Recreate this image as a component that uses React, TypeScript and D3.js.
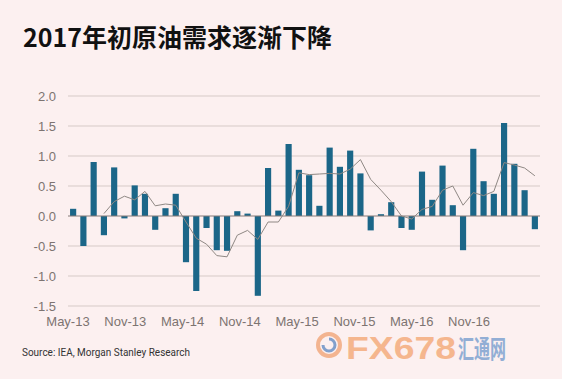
import React from "react";
import * as d3 from "d3";

const title = "2017年初原油需求逐渐下降";
const source = "Source: IEA, Morgan Stanley Research";

const months = [
  "May-13","Jun-13","Jul-13","Aug-13","Sep-13","Oct-13","Nov-13","Dec-13",
  "Jan-14","Feb-14","Mar-14","Apr-14","May-14","Jun-14","Jul-14","Aug-14","Sep-14","Oct-14","Nov-14","Dec-14",
  "Jan-15","Feb-15","Mar-15","Apr-15","May-15","Jun-15","Jul-15","Aug-15","Sep-15","Oct-15","Nov-15","Dec-15",
  "Jan-16","Feb-16","Mar-16","Apr-16","May-16","Jun-16","Jul-16","Aug-16","Sep-16","Oct-16","Nov-16","Dec-16",
  "Jan-17","Feb-17",
];

const demand = [
  0.12, -0.5, 0.9, -0.32, 0.81, -0.04, 0.51, 0.37, -0.23, 0.13, 0.37, -0.77,
  -1.25, -0.2, -0.57, -0.58, 0.08, 0.04, -1.33, 0.8, 0.09, 1.2, 0.77, 0.68,
  0.17, 1.14, 0.82, 1.09, 0.71, -0.24, 0.03, 0.23, -0.2, -0.23, 0.74, 0.27,
  0.84, 0.18, -0.57, 1.12, 0.58, 0.37, 1.55, 0.87, 0.43, -0.22,
];

const trend: (number | null)[] = [
  null, null, null,
  0.04, 0.24, 0.33, 0.27, 0.41, 0.17, 0.2, 0.18, -0.1, -0.37, -0.47, -0.66,
  -0.68, -0.32, -0.24, -0.39, -0.1, -0.1, 0.16, 0.72, 0.69, 0.7, 0.71, 0.7,
  0.78, 0.94, 0.61, 0.43, 0.24, 0.0, -0.05, 0.11, 0.16, 0.43, 0.5, 0.18,
  0.39, 0.34, 0.41, 0.89, 0.85, 0.8, 0.67,
];

const yTicks = [2.0, 1.5, 1.0, 0.5, 0.0, -0.5, -1.0, -1.5];
const xLabels = ["May-13", "Nov-13", "May-14", "Nov-14", "May-15", "Nov-15", "May-16", "Nov-16"];

const W = 562;
const H = 379;

export default function App() {
  const x = d3.scaleBand<string>().domain(months).range([68, 540]).paddingInner(0.4).paddingOuter(0.2);
  const y = d3.scaleLinear().domain([-1.5, 2]).range([306, 96]);
  const xl = d3.scalePoint<string>().domain(xLabels).range([68, 469]);

  const line = d3
    .line<number | null>()
    .defined((d) => d !== null)
    .x((_, i) => (x(months[i]) as number) + x.bandwidth() / 2)
    .y((d) => y(d as number));

  const axisFont = "'Liberation Sans', Arial, sans-serif";

  return (
    <svg
      width={W}
      height={H}
      style={{ position: "absolute", left: 0, top: 0, background: "#fcf0f0" }}
    >
      <rect x={0} y={0} width={W} height={H} fill="#fcf0f0" />
      <text
        x={23}
        y={47}
        fontFamily="'Noto Sans CJK SC', sans-serif"
        fontWeight="bold"
        fontSize={25}
        fill="#111"
      >
        {title}
      </text>

      {yTicks.map((t) => (
        <g key={t}>
          {t !== 0 && (
            <line x1={68} x2={540} y1={y(t)} y2={y(t)} stroke="#d6cac7" strokeWidth={1} />
          )}
          <text
            x={56}
            y={y(t)}
            dy="0.36em"
            textAnchor="end"
            fontFamily={axisFont}
            fontSize={13}
            fill="#7d7471"
          >
            {t.toFixed(1)}
          </text>
        </g>
      ))}

      {demand.map((v, i) => (
        <rect
          key={months[i]}
          x={x(months[i])}
          width={x.bandwidth()}
          y={y(Math.max(0, v))}
          height={Math.abs(y(v) - y(0))}
          fill="#1b6688"
        />
      ))}

      <line x1={68} x2={540} y1={y(0)} y2={y(0)} stroke="#857b78" strokeWidth={1} />

      <path d={line(trend) || ""} fill="none" stroke="#8f8884" strokeWidth={1} />

      {xLabels.map((l) => (
        <text
          key={l}
          x={xl(l)}
          y={326}
          textAnchor="middle"
          fontFamily={axisFont}
          fontSize={13}
          fill="#7d7471"
        >
          {l}
        </text>
      ))}

      <text
        x={22}
        y={356}
        fontFamily="Roboto, 'Liberation Sans', sans-serif"
        fontSize={11}
        fill="#333"
        textLength={168}
        lengthAdjust="spacingAndGlyphs"
      >
        {source}
      </text>

      <g opacity={0.75}>
        <circle cx={329} cy={345} r={11} fill="none" stroke="#f0a070" strokeWidth={4} />
        <path d="M 329 339 a 6 6 0 1 1 -6 6" fill="none" stroke="#5a86c0" strokeWidth={3} />
        <text
          x={346}
          y={359}
          fontFamily="'Liberation Sans Narrow', 'Liberation Sans', sans-serif"
          fontWeight="bold"
          fontSize={31}
          fill="#f3a36e"
          textLength={110}
          lengthAdjust="spacingAndGlyphs"
        >
          FX678
        </text>
        <text
          x={458}
          y={358}
          fontFamily="'Noto Sans CJK SC', sans-serif"
          fontWeight="bold"
          fontSize={25}
          fill="#6f98cc"
          textLength={48}
          lengthAdjust="spacingAndGlyphs"
        >
          汇通网
        </text>
      </g>
    </svg>
  );
}
